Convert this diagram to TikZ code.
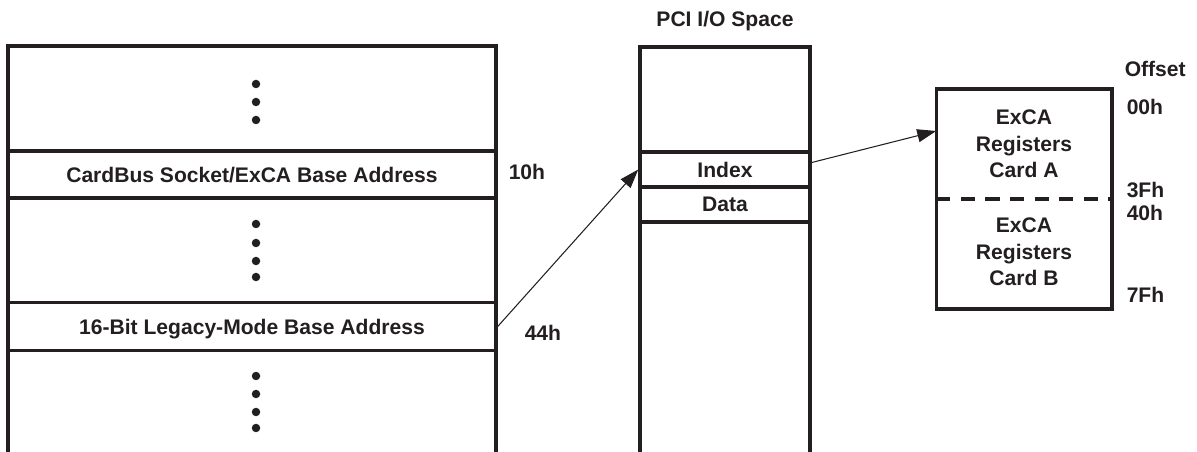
\documentclass[tikz,border=0pt]{standalone}
\usepackage{fontspec}
\setmainfont{Liberation Sans}
\usepackage{tikz}
\usetikzlibrary{arrows.meta}
\definecolor{ink}{HTML}{231F20}

\begin{document}
\begin{tikzpicture}[x=0.02cm,y=-0.02cm,line width=2pt,color=ink,
    font=\fontsize{12}{15}\selectfont\bfseries,
    row/.style={draw,inner sep=0pt,minimum height=#1},
    offs/.style={anchor=west,inner sep=0pt},
    ptr/.style={-{Triangle[length=0.38cm,width=0.26cm]},line width=0.6pt}]
        \useasboundingbox (0,0) rectangle (1197,452);
        %PCI configuration space on the left
        \draw (8,452) -- (8,46) -- (496,46) -- (496,452);
        \node[row=0.94cm,minimum width=9.76cm,text depth=0pt] (cardbus) at (252,174.5) {CardBus Socket/ExCA Base Address};
        \node[row=0.96cm,minimum width=9.76cm,text depth=0pt] (legacy) at (252,326.5) {16-Bit Legacy-Mode Base Address};
        \foreach \y in {84,102,120, 224,243,261,277, 376,394,412,428}
        \fill (256,\y) circle (0.085cm);
        \node[offs] (off10) at (507,172) {10h};
        \node[offs] (off44) at (523,333) {44h};
        %PCI I/O space in the middle
        \node (pcititle) at (725,21) {PCI I/O Space};
        \draw (640,452) -- (640,47) -- (810,47) -- (810,452);
        \node[row=0.7cm,minimum width=3.4cm,text depth=0pt] (index) at (725,169.5) {Index};
        \node[row=0.7cm,minimum width=3.4cm,text depth=0pt] (data) at (725,204.5) {Data};
        %ExCA registers on the right
        \node[inner sep=0pt,minimum width=3.44cm,minimum height=2.12cm,align=center] (cardA) at (1024,144) {ExCA\\Registers\\Card A};
        \node[inner sep=0pt,minimum width=3.44cm,minimum height=2.2cm,align=center] (cardB) at (1024,252) {ExCA\\Registers\\Card B};
        \draw (cardA.north west) rectangle (cardB.south east);
        \draw[dash pattern=on 8pt off 6pt] (cardA.south west) -- (cardA.south east);
        \node[offs] (offtitle) at (1123,69) {Offset};
        \foreach \y/\text in {107/00h, 190/3Fh, 213/40h, 295/7Fh}
        \node[offs] at (1125,\y) {\text};
        %pointers
        \draw[ptr] (legacy.east) -- (index.west);
        \draw[ptr] ([yshift=0.14cm]index.east) -- ([yshift=0.26cm]cardA.west);
\end{tikzpicture}
\end{document}
